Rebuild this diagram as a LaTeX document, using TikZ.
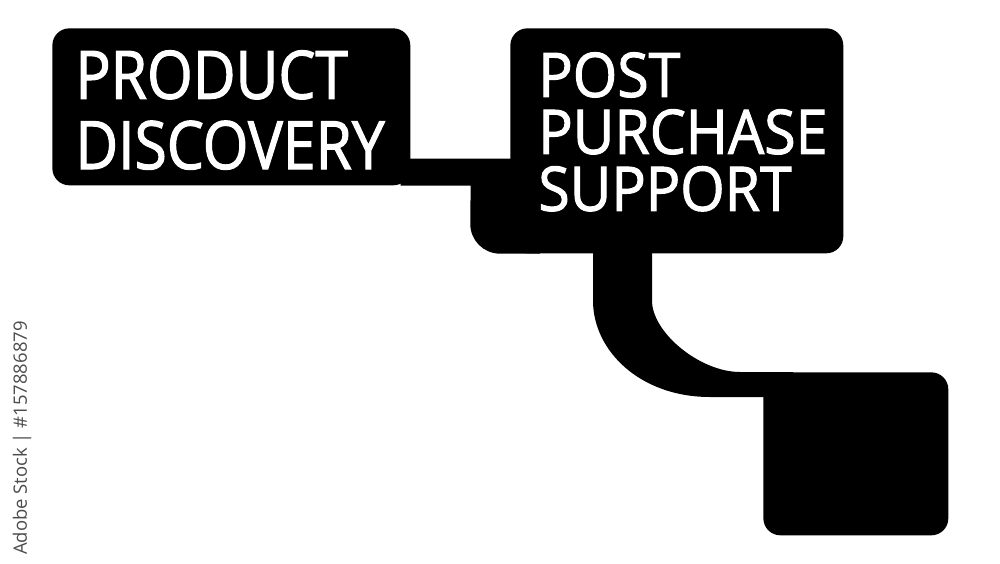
\documentclass[tikz,border=0pt]{standalone}
\usepackage{fontspec}
\setmainfont{Open Sans}
\newfontfamily\boxfont[FakeStretch=0.88,FakeBold=1.6]{Open Sans}
\newfontfamily\postfont[FakeStretch=0.93,FakeBold=1.6]{Open Sans}
\usetikzlibrary{calc}

\tikzset{
  pbox/.style={fill=black,rounded corners=0.34cm,inner sep=0pt,anchor=north west},
  link/.style={fill=black},
  boxtext/.style={text=white,align=left,inner sep=0pt,anchor=north west}
}

\begin{document}
\begin{tikzpicture}[x=0.02cm,y=-0.02cm]
    \useasboundingbox[fill=white] (0,0) rectangle (1000,564);

    % the three boxes
    \node[pbox,minimum width=7.16cm,minimum height=3.14cm] (disc) at (52,28) {};
    \node[pbox,minimum width=6.66cm,minimum height=4.5cm] (post) at (510,28) {};
    \node[pbox,minimum width=3.7cm,minimum height=3.26cm] (blank) at (763,372) {};

    \node[boxtext,font=\boxfont\fontsize{38}{40}\selectfont] (disctext)
      at ($(disc.north west)+(23,22)$) {PRODUCT\\DISCOVERY};
    \node[boxtext,font=\postfont\fontsize{35}{32.4}\selectfont] (posttext)
      at ($(post.north west)+(28,24)$) {POST\\PURCHASE\\SUPPORT};

    % disc -> post
    \fill[link] ($(disc.south east)+(-10,-27)$)
      -- ($(post.south west)+(10,-95)$)
      -- ($(post.south west)+(30,-95)$)
      -- ($(post.south west)+(30,0)$)
      [rounded corners=0.6cm] -- ($(post.south west)+(-40,0)$)
      [sharp corners] -- ($(disc.south east)+(60,0)$)
      -- ($(disc.south east)+(-10,0)$) -- cycle;

    % post -> blank
    \fill[link] ($(post.south west)+(83,-8)$)
      -- ($(post.south west)+(83,47)$)
      .. controls ($(post.south west)+(83,97)$) and ($(blank.north west)+(-123,25)$)
      .. ($(blank.north west)+(-53,25)$)
      -- ($(blank.north west)+(30,25)$)
      -- ($(blank.north west)+(30,0)$)
      -- ($(blank.north west)+(-23,0)$)
      .. controls ($(blank.north west)+(-63,0)$) and ($(post.south west)+(142,79)$)
      .. ($(post.south west)+(142,47)$)
      -- ($(post.south west)+(142,-8)$) -- cycle;

    \node[rotate=90,text=black!70,font=\fontsize{10.5}{12}\selectfont] (stock)
      at (22,438) {Adobe Stock | \#157886879};
\end{tikzpicture}
\end{document}
